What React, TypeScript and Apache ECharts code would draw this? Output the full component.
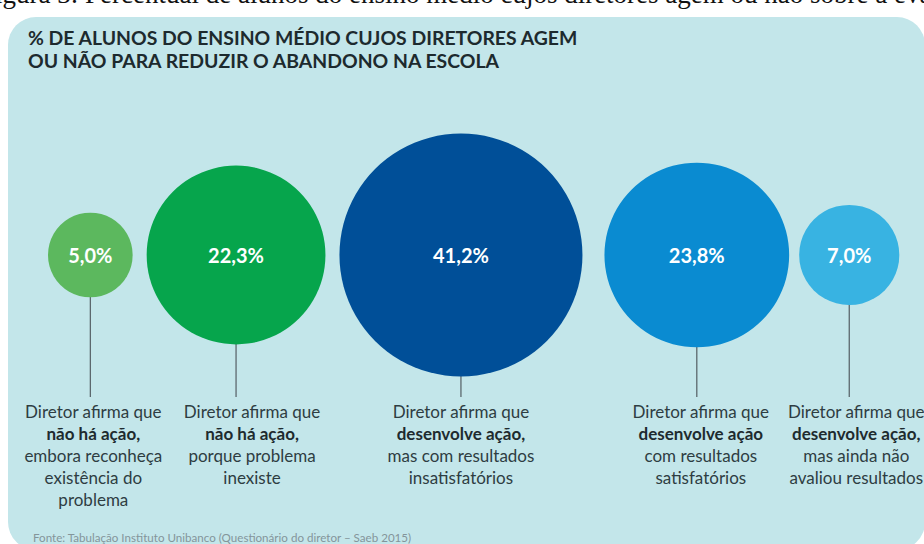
import React, { useEffect, useRef } from "react";
import * as echarts from "echarts";

// ---- data ----
const categories = [
  "Diretor afirma que não há ação, embora reconheça existência do problema",
  "Diretor afirma que não há ação, porque problema inexiste",
  "Diretor afirma que desenvolve ação, mas com resultados insatisfatórios",
  "Diretor afirma que desenvolve ação com resultados satisfatórios",
  "Diretor afirma que desenvolve ação, mas ainda não avaliou resultados",
];
const values = [5.0, 22.3, 41.2, 23.8, 7.0];
const valueLabels = ["5,0%", "22,3%", "41,2%", "23,8%", "7,0%"];
const descriptionLines = [
  ["Diretor afirma que", "não há ação,", "embora reconheça", "existência do", "problema"],
  ["Diretor afirma que", "não há ação,", "porque problema", "inexiste"],
  ["Diretor afirma que", "desenvolve ação,", "mas com resultados", "insatisfatórios"],
  ["Diretor afirma que", "desenvolve ação", "com resultados", "satisfatórios"],
  ["Diretor afirma que", "desenvolve ação,", "mas ainda não", "avaliou resultados"],
];
const titleLines = [
  "% DE ALUNOS DO ENSINO MÉDIO CUJOS DIRETORES AGEM",
  "OU NÃO PARA REDUZIR O ABANDONO NA ESCOLA",
];
const caption =
  "Figura 3: Percentual de alunos do ensino médio cujos diretores agem ou não sobre a evasão";
const source =
  "Fonte: Tabulação Instituto Unibanco (Questionário do diretor – Saeb 2015)";

// ---- styles / layout ----
const colors = ["#5cb85e", "#06a54c", "#004f98", "#0a8bd1", "#38b3e2"];
const RADIUS_K = 18.93; // px radius per sqrt(percent)  (area-proportional bubbles)
const LEFT_EDGE = 48;
const GAPS = [14, 14, 22, 10];
const TEXT_SHIFT = [3, 16, 0, 4, 7];
const STEM_END = 397;
const DESC_TOP = 411;
const DESC_LINE = 22;
const SANS = "Lato, 'Open Sans', 'Noto Sans', sans-serif";

const radiusOf = (v: number) => RADIUS_K * Math.sqrt(v);

// x positions: bubbles packed left to right
const centers: number[] = [];
{
  let edge = LEFT_EDGE;
  values.forEach((v, i) => {
    const r = radiusOf(v);
    centers.push(edge + r);
    edge = edge + 2 * r + (GAPS[i] ?? 0);
  });
}

export default function App() {
  const ref = useRef<HTMLDivElement>(null);
  useEffect(() => {
    if (!ref.current) return;
    const chart = echarts.init(ref.current, undefined, { renderer: "svg" });
    chart.setOption({
      animation: false,
      backgroundColor: "#ffffff",
      grid: { left: 0, right: 0, top: 155, height: 200 },
      xAxis: { type: "value", min: 0, max: 924, show: false },
      yAxis: { type: "category", data: [""], show: false },
      graphic: [
        {
          type: "rect",
          z: -10,
          shape: { x: 8, y: 17, width: 917, height: 533, r: 28 },
          style: { fill: "#c3e6ea" },
        },
        {
          type: "text",
          x: -20,
          y: 7,
          style: {
            text: caption,
            font: "27px 'Liberation Serif', 'DejaVu Serif', serif",
            fill: "#111",
            verticalAlign: "bottom",
          },
        },
        ...titleLines.map((t, j) => ({
          type: "text",
          x: 28,
          y: 37 + j * 23,
          style: {
            text: t,
            font: `bold 19.4px ${SANS}`,
            fill: "#1d2a2e",
            verticalAlign: "middle",
          },
        })),
        {
          type: "text",
          x: 33,
          y: 537,
          style: {
            text: source,
            font: `11.6px ${SANS}`,
            fill: "#84959a",
            verticalAlign: "middle",
          },
        },
      ],
      series: [
        {
          type: "custom",
          z: 1,
          data: values.map((v, i) => [centers[i], 0, v]),
          renderItem: (params: any, api: any) => {
            const i = params.dataIndex;
            const p = api.coord([api.value(0), api.value(1)]);
            const r = radiusOf(api.value(2));
            const children: any[] = [
              {
                type: "line",
                shape: { x1: p[0], y1: p[1] + r - 1, x2: p[0], y2: STEM_END },
                style: { stroke: "#545e63", lineWidth: 1.2 },
              },
            ];
            descriptionLines[i].forEach((ln, j) => {
              children.push({
                type: "text",
                x: p[0] + TEXT_SHIFT[i],
                y: DESC_TOP + j * DESC_LINE,
                style: {
                  text: ln,
                  font: `${j === 1 ? "bold " : ""}17px ${SANS}`,
                  fill: j === 1 ? "#1e2b2f" : "#2e3d42",
                  align: "center",
                  verticalAlign: "middle",
                },
              });
            });
            return { type: "group", children };
          },
        },
        {
          type: "scatter",
          z: 2,
          name: "alunos",
          data: values.map((v, i) => ({
            name: categories[i],
            value: [centers[i], 0, v],
            itemStyle: { color: colors[i], opacity: 1 },
          })),
          symbol: "circle",
          symbolSize: (val: number[]) => 2 * radiusOf(val[2]),
          label: {
            show: true,
            position: "inside",
            formatter: (p: any) => valueLabels[p.dataIndex],
            color: "#ffffff",
            fontFamily: SANS,
            fontWeight: "bold",
            fontSize: 20,
          },
          emphasis: { disabled: true },
        },
      ],
    });
    return () => chart.dispose();
  }, []);
  return (
    <div
      ref={ref}
      style={{ position: "absolute", left: 0, top: 0, width: 924, height: 544 }}
    />
  );
}
